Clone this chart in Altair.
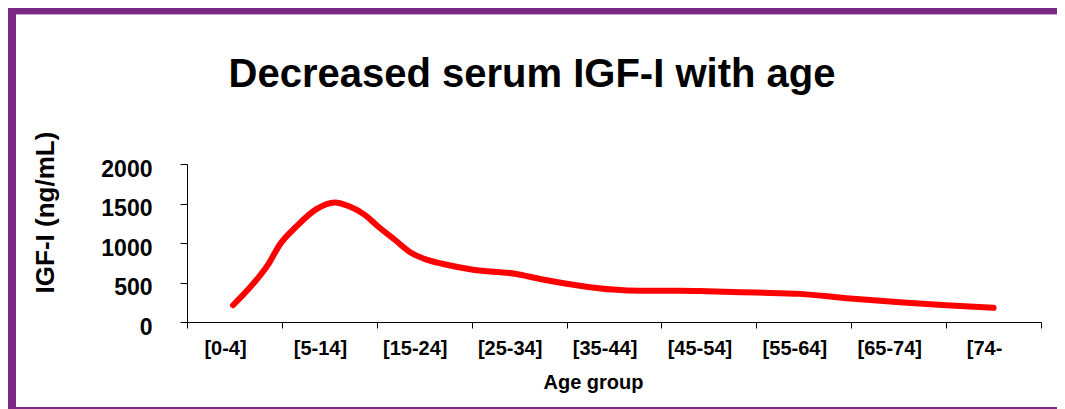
import altair as alt
import pandas as pd

# ---- data ----
title_text = "Decreased serum IGF-I with age"
categories = ["[0-4]", "[5-14]", "[15-24]", "[25-34]", "[35-44]",
              "[45-54]", "[55-64]", "[65-74]", "[74-"]
# position along the x axis in category-band units (0 = left edge of "[0-4]")
age_pos = [0.485, 0.643, 0.854, 0.977, 1.153, 1.364, 1.557, 1.715, 1.873,
           2.014, 2.19, 2.366, 2.524, 2.70, 3.015, 3.47, 3.72, 4.14, 4.49,
           4.77, 5.19, 5.48, 6.0, 6.46, 6.99, 7.51, 8.0, 8.50]
igf = [212, 410, 725, 978, 1209, 1428, 1512, 1461, 1356,
       1209, 1041, 873, 789, 734, 662, 608, 545, 460, 410,
       395, 395, 389, 372, 356, 297, 250, 212, 179]
y_ticks = [0, 500, 1000, 1500, 2000]

FONT = "Liberation Sans"
PURPLE = "#7B2884"
PLOT_W, PLOT_H = 854, 158
PAD = {"left": 179, "top": 156, "right": 16, "bottom": 87}

df = pd.DataFrame({"pos": age_pos, "igf": igf})

label_js = "[" + ",".join("'%s'" % c for c in categories) + "]"
label_expr = f"datum.value < {len(categories)} ? {label_js}[datum.value] : ''"

line = alt.Chart(df).mark_line(
    color="#FF0000", strokeWidth=6, interpolate="monotone",
    strokeCap="round", strokeJoin="round", clip=False
).encode(
    x=alt.X("pos:Q",
            scale=alt.Scale(domain=[0, len(categories)], nice=False, zero=False),
            axis=alt.Axis(values=list(range(len(categories) + 1)),
                          labelExpr=label_expr, labelOffset=38,
                          labelFontSize=20, labelPadding=10, tickSize=6,
                          labelFlush=False, labelOverlap=False,
                          title="Age group", titleFontSize=20,
                          titleX=406, titleY=60, titleAlign="center",
                          titleBaseline="middle")),
    y=alt.Y("igf:Q",
            scale=alt.Scale(domain=[0, 2000], nice=False),
            axis=alt.Axis(values=y_ticks, format="d", labelFontSize=23,
                          labelPadding=28, tickSize=7, labelOffset=5,
                          title="IGF-I (ng/mL)", titleFontSize=26,
                          titleAngle=270, titleX=-142, titleY=48,
                          titleAlign="center", titleBaseline="middle")),
)

one = pd.DataFrame({"a": [0]})
title = alt.Chart(one).mark_text(
    font=FONT, fontSize=40, fontWeight="bold", color="black",
    align="center", baseline="alphabetic", clip=False
).encode(text=alt.value(title_text), x=alt.value(345), y=alt.value(-77))

frame_left = alt.Chart(one).mark_rect(color=PURPLE, clip=False).encode(
    x=alt.value(-PAD["left"]), x2=alt.value(-PAD["left"] + 8),
    y=alt.value(-PAD["top"]), y2=alt.value(PLOT_H + PAD["bottom"]))
frame_top = alt.Chart(one).mark_rect(color=PURPLE, clip=False).encode(
    x=alt.value(-PAD["left"]), x2=alt.value(PLOT_W + PAD["right"]),
    y=alt.value(-PAD["top"]), y2=alt.value(-PAD["top"] + 6))
frame_top_light = alt.Chart(one).mark_rect(color="#C9A6D1", clip=False).encode(
    x=alt.value(-PAD["left"] + 8), x2=alt.value(PLOT_W + PAD["right"]),
    y=alt.value(-PAD["top"] + 6), y2=alt.value(-PAD["top"] + 7))
frame_bottom = alt.Chart(one).mark_rect(color=PURPLE, clip=False).encode(
    x=alt.value(-PAD["left"]), x2=alt.value(PLOT_W + PAD["right"]),
    y=alt.value(PLOT_H + PAD["bottom"] - 2), y2=alt.value(PLOT_H + PAD["bottom"]))

chart = alt.layer(line, title, frame_left, frame_top, frame_top_light,
                  frame_bottom).properties(
    width=PLOT_W, height=PLOT_H,
    padding=PAD,
    autosize=alt.AutoSizeParams(type="none"),
    background="white",
).configure_view(stroke=None).configure_axis(
    labelFont=FONT, titleFont=FONT, labelFontWeight="bold",
    titleFontWeight="bold", labelColor="black", titleColor="black",
    domainColor="black", tickColor="black", grid=False, domainWidth=1,
    tickWidth=1,
)

chart.save("out.html", embed_options={"renderer": "svg", "actions": False})
